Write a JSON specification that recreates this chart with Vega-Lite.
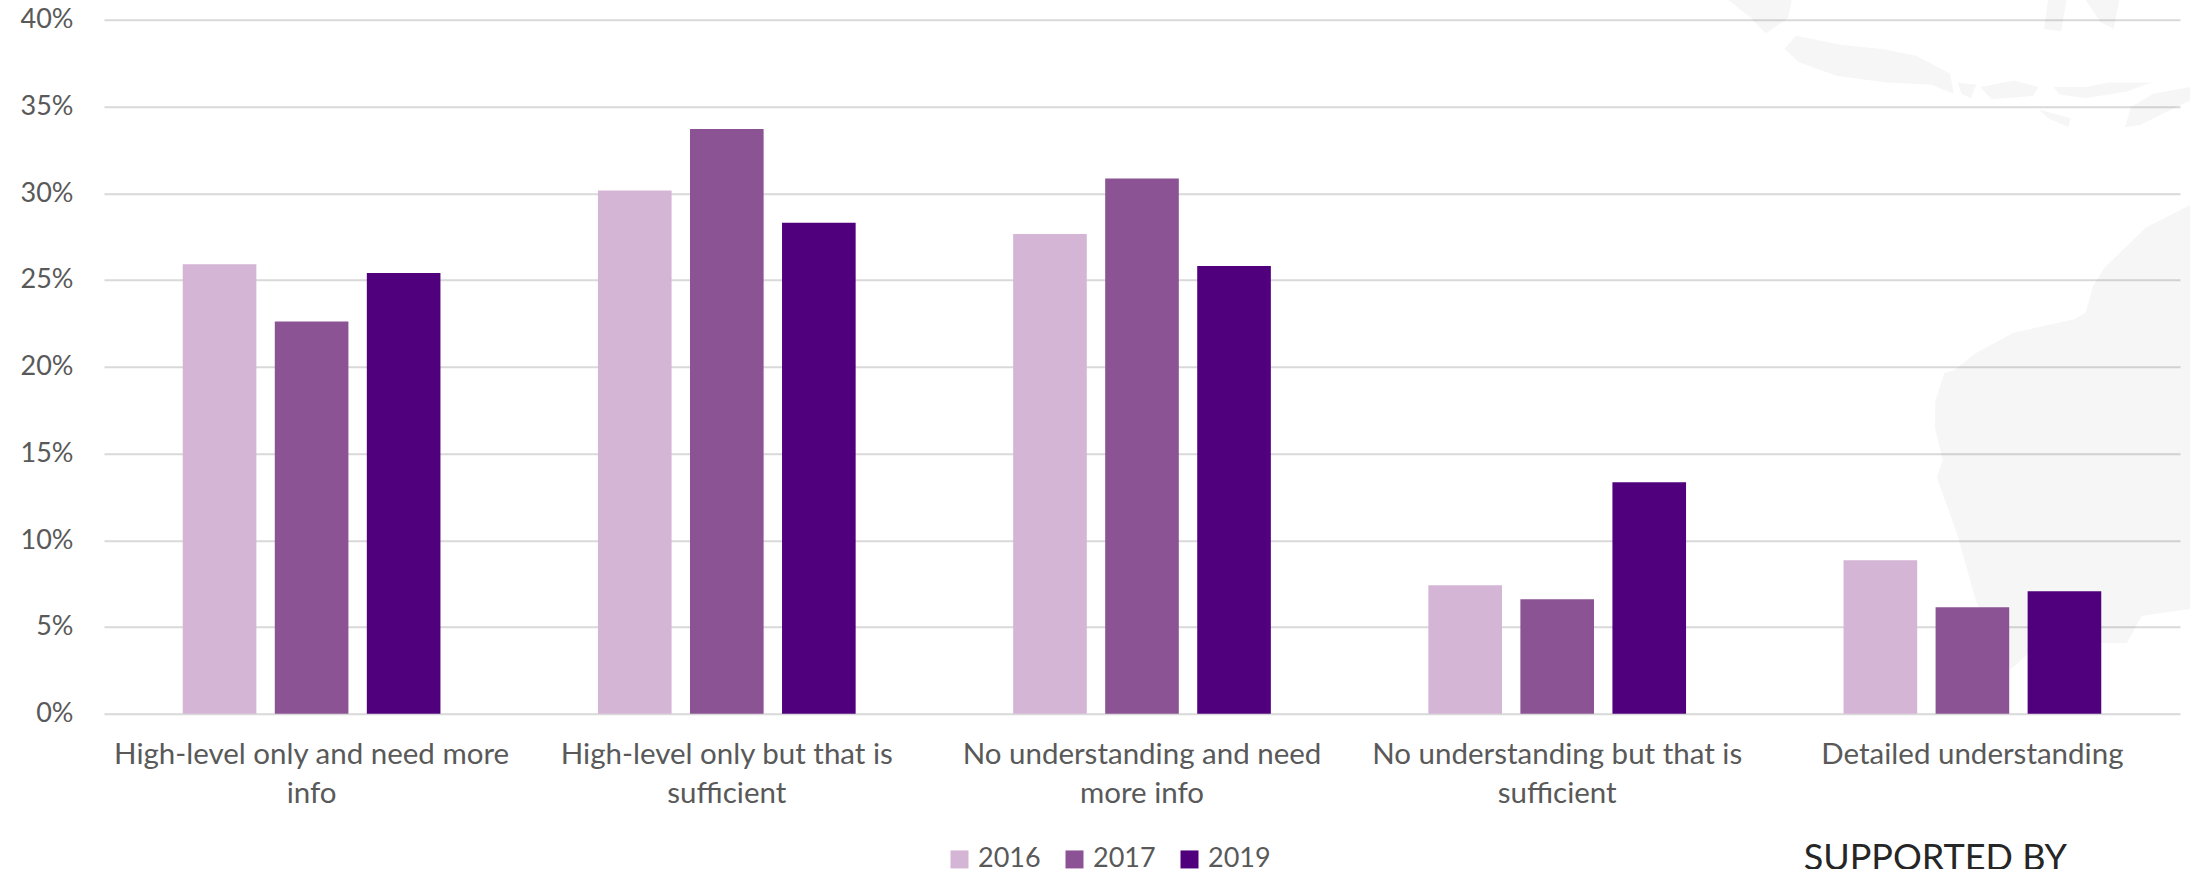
{
  "$schema": "https://vega.github.io/schema/vega-lite/v6.json",
  "width": 2076,
  "height": 694,
  "autosize": {"type": "none"},
  "padding": {"left": 104, "top": 19.7, "right": 10, "bottom": 155.3},
  "background": "#ffffff",
  "config": {
    "view": {"stroke": null},
    "font": "Lato"
  },
  "datasets": {
    "survey": [
      {"understanding": "High-level only and need more info", "year": "2016", "share": 25.9},
      {"understanding": "High-level only and need more info", "year": "2017", "share": 22.6},
      {"understanding": "High-level only and need more info", "year": "2019", "share": 25.4},
      {"understanding": "High-level only but that is sufficient", "year": "2016", "share": 30.15},
      {"understanding": "High-level only but that is sufficient", "year": "2017", "share": 33.7},
      {"understanding": "High-level only but that is sufficient", "year": "2019", "share": 28.3},
      {"understanding": "No understanding and need more info", "year": "2016", "share": 27.65},
      {"understanding": "No understanding and need more info", "year": "2017", "share": 30.85},
      {"understanding": "No understanding and need more info", "year": "2019", "share": 25.8},
      {"understanding": "No understanding but that is sufficient", "year": "2016", "share": 7.4},
      {"understanding": "No understanding but that is sufficient", "year": "2017", "share": 6.6},
      {"understanding": "No understanding but that is sufficient", "year": "2019", "share": 13.34},
      {"understanding": "Detailed understanding", "year": "2016", "share": 8.85},
      {"understanding": "Detailed understanding", "year": "2017", "share": 6.13},
      {"understanding": "Detailed understanding", "year": "2019", "share": 7.06}
    ],
    "backdrop": [
      {"type": "Feature", "properties": {"name": "Sumatra"}, "geometry": {"type": "Polygon", "coordinates": [[[101.8,-4.21],[105.45,-4.21],[105.24,-5.23],[103.95,-6.13],[103.09,-5.23],[101.8,-4.21]]]}},
      {"type": "Feature", "properties": {"name": "Java"}, "geometry": {"type": "Polygon", "coordinates": [[[105.02,-7.02],[105.67,-6.25],[108.25,-6.77],[110.61,-7.02],[112.55,-7.4],[114.49,-8.42],[114.7,-9.57],[113.41,-9.06],[110.83,-8.93],[108.03,-8.55],[105.88,-7.79],[105.02,-7.02]]]}},
      {"type": "Feature", "properties": {"name": "Bali"}, "geometry": {"type": "Polygon", "coordinates": [[[114.92,-8.93],[115.99,-9.06],[115.67,-9.83],[115.13,-9.57],[114.92,-8.93]]]}},
      {"type": "Feature", "properties": {"name": "Sumbawa"}, "geometry": {"type": "Polygon", "coordinates": [[[116.21,-9.19],[118.14,-8.81],[119.54,-9.19],[119.22,-9.7],[116.85,-9.88],[116.21,-9.19]]]}},
      {"type": "Feature", "properties": {"name": "Flores"}, "geometry": {"type": "Polygon", "coordinates": [[[120.4,-9.19],[122.23,-9.19],[123.52,-8.93],[125.99,-8.93],[124.59,-9.44],[122.23,-9.83],[120.72,-9.62],[120.4,-9.19]]]}},
      {"type": "Feature", "properties": {"name": "Sumba"}, "geometry": {"type": "Polygon", "coordinates": [[[119.54,-10.46],[121.37,-10.97],[121.26,-11.48],[120.08,-10.97],[119.54,-10.46]]]}},
      {"type": "Feature", "properties": {"name": "Timor"}, "geometry": {"type": "Polygon", "coordinates": [[[124.49,-11.48],[124.81,-10.34],[126.1,-9.57],[128.2,-9.19],[128.2,-9.95],[125.35,-11.36],[124.49,-11.48]]]}},
      {"type": "Feature", "properties": {"name": "Sulawesi south"}, "geometry": {"type": "Polygon", "coordinates": [[[120.08,-4.21],[121.15,-4.21],[120.83,-6.0],[119.86,-5.87],[120.08,-4.21]]]}},
      {"type": "Feature", "properties": {"name": "Buton"}, "geometry": {"type": "Polygon", "coordinates": [[[122.23,-4.21],[124.16,-4.21],[123.84,-5.87],[123.09,-5.49],[122.23,-4.21]]]}},
      {"type": "Feature", "properties": {"name": "Australia"}, "geometry": {"type": "Polygon", "coordinates": [[[128.89,-15.57],[128.89,-38.91],[125.45,-39.42],[124.59,-40.95],[119.65,-40.95],[117.93,-42.48],[115.99,-38.65],[114.92,-34.83],[113.73,-31.51],[114.06,-30.49],[113.63,-28.7],[113.63,-27.17],[114.16,-25.52],[114.7,-25.39],[115.99,-24.37],[118.14,-23.22],[121.58,-22.45],[122.23,-22.07],[122.66,-20.54],[123.3,-19.52],[125.67,-17.22],[128.89,-15.57]]]}}
    ],
    "sponsor": [
      {"understanding": "Detailed understanding", "share": -9.0, "caption": "SUPPORTED BY"}
    ]
  },
  "layer": [
    {
      "data": {"name": "backdrop"},
      "projection": {"type": "equirectangular", "scale": 1002.7, "translate": [-157.5, -93.45]},
      "mark": {"type": "geoshape", "fill": "#000000", "fillOpacity": 0.036, "stroke": null, "clip": false}
    },
    {
      "data": {"name": "survey"},
      "mark": {"type": "bar"},
      "encoding": {
        "x": {
          "field": "understanding",
          "type": "nominal",
          "sort": null,
          "scale": {"paddingInner": 0.335, "paddingOuter": 0.1675},
          "axis": {
            "title": null,
            "domain": false,
            "ticks": false,
            "grid": false,
            "labelAngle": 0,
            "labelFont": "Lato",
            "labelFontSize": 29.5,
            "labelColor": "#595959",
            "labelPadding": 27,
            "labelLineHeight": 39,
            "labelLimit": 0,
            "labelExpr": "datum.label == 'High-level only and need more info' ? ['High-level only and need more', 'info'] : datum.label == 'High-level only but that is sufficient' ? ['High-level only but that is', 'sufficient'] : datum.label == 'No understanding and need more info' ? ['No understanding and need', 'more info'] : datum.label == 'No understanding but that is sufficient' ? ['No understanding but that is', 'sufficient'] : datum.label"
          }
        },
        "xOffset": {
          "field": "year",
          "type": "nominal",
          "scale": {"paddingInner": 0.2, "paddingOuter": 0.1}
        },
        "y": {
          "field": "share",
          "type": "quantitative",
          "scale": {"domain": [0, 40], "nice": false},
          "axis": {
            "title": null,
            "domain": false,
            "ticks": false,
            "grid": true,
            "gridColor": "#D9D9D9",
            "gridWidth": 2,
            "values": [0, 5, 10, 15, 20, 25, 30, 35, 40],
            "labelExpr": "datum.value + '%'",
            "labelFont": "Lato",
            "labelFontSize": 27,
            "labelColor": "#595959",
            "labelPadding": 31
          }
        },
        "color": {
          "field": "year",
          "type": "nominal",
          "scale": {"domain": ["2016", "2017", "2019"], "range": ["#D5B5D5", "#8B5394", "#51007D"]},
          "legend": {
            "title": null,
            "orient": "none",
            "direction": "horizontal",
            "legendX": 842,
            "legendY": 826,
            "symbolType": "square",
            "symbolSize": 324,
            "symbolStrokeWidth": 0,
            "labelFont": "Lato",
            "labelFontSize": 27,
            "labelColor": "#595959",
            "labelOffset": 5,
            "columnPadding": 20,
            "padding": 0
          }
        }
      }
    },
    {
      "data": {"name": "sponsor"},
      "mark": {"type": "text", "font": "Lato", "fontSize": 36, "color": "#262626", "dx": -37, "align": "center", "baseline": "alphabetic"},
      "encoding": {
        "x": {"field": "understanding", "type": "nominal", "sort": null},
        "y": {"field": "share", "type": "quantitative"},
        "text": {"field": "caption"}
      }
    }
  ],
  "resolve": {"scale": {"x": "shared"}}
}
